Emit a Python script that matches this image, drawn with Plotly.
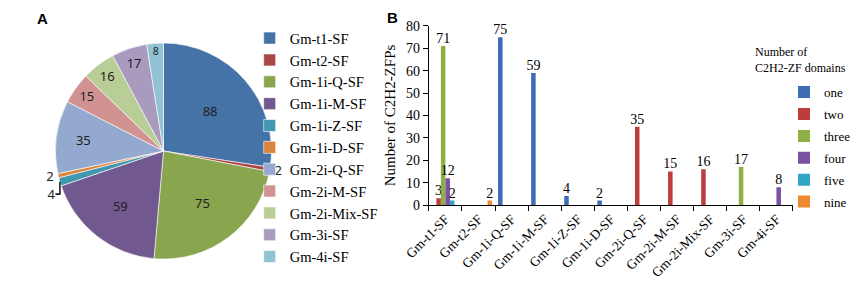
import plotly.graph_objects as go

# ---- Panel A data (pie) ----
subfamilies = ["Gm-t1-SF", "Gm-t2-SF", "Gm-1i-Q-SF", "Gm-1i-M-SF", "Gm-1i-Z-SF", "Gm-1i-D-SF",
               "Gm-2i-Q-SF", "Gm-2i-M-SF", "Gm-2i-Mix-SF", "Gm-3i-SF", "Gm-4i-SF"]
pie_counts = [88, 2, 75, 59, 4, 2, 35, 15, 16, 17, 8]
pie_colors = ["#4572A7", "#AA4643", "#89A54E", "#71588F", "#4198AF", "#DB843D",
              "#93A9CF", "#D19392", "#B9CD96", "#A99BBD", "#92C3D4"]

# ---- Panel B data (grouped bars) ----
domain_counts = ["one", "two", "three", "four", "five", "nine"]
one_vals   = [0, 0, 75, 59, 4, 2, 0, 0, 0, 0, 0]
two_vals   = [3, 0, 0, 0, 0, 0, 35, 15, 16, 0, 0]
three_vals = [71, 0, 0, 0, 0, 0, 0, 0, 0, 17, 0]
four_vals  = [12, 0, 0, 0, 0, 0, 0, 0, 0, 0, 8]
five_vals  = [2, 0, 0, 0, 0, 0, 0, 0, 0, 0, 0]
nine_vals  = [0, 2, 0, 0, 0, 0, 0, 0, 0, 0, 0]
bar_series = [one_vals, two_vals, three_vals, four_vals, five_vals, nine_vals]
bar_colors = ["#3D6DB5", "#BE3D3C", "#8DB043", "#7B51A3", "#33A6C6", "#EE8A2E"]

W, H = 856, 287
def px(x):
    return x / W
def py(y):
    return 1 - y / H

SERIF = "Liberation Serif, Times New Roman, serif"
SANS = "Liberation Sans, Arial, sans-serif"

fig = go.Figure()

textpos = ["outside" if v <= 4 else "inside" for v in pie_counts]
fig.add_trace(go.Pie(
    labels=subfamilies, values=pie_counts, sort=False, direction="clockwise", rotation=0,
    marker=dict(colors=pie_colors, line=dict(color="white", width=0.6)),
    textinfo="value", textposition=textpos, insidetextorientation="horizontal",
    textfont=dict(family="Noto Sans, sans-serif", size=13, color="#222222"),
    domain=dict(x=[px(22), px(264)], y=[py(266), py(38)]),
    legend="legend", showlegend=True, hoverinfo="label+value",
))

for name, vals, col in zip(domain_counts, bar_series, bar_colors):
    fig.add_trace(go.Bar(
        x=subfamilies, y=vals, name=name, marker=dict(color=col, line=dict(width=0)),
        text=[str(v) if v else "" for v in vals], textposition="outside", constraintext="none",
        textfont=dict(family=SERIF, size=14, color="black"), cliponaxis=False,
        legend="legend2", legendgroup=name, xaxis="x", yaxis="y",
    ))

fig.update_layout(
    width=W, height=H, margin=dict(l=0, r=0, t=0, b=0),
    paper_bgcolor="white", plot_bgcolor="white",
    barmode="group", bargap=0.18, bargroupgap=0,
    font=dict(family=SERIF, size=12, color="black"),
    xaxis=dict(domain=[px(417), px(793)], showgrid=False, showline=True, linecolor="black",
               linewidth=1, ticks="outside", tickson="boundaries", ticklen=5, tickcolor="black",
               tickangle=-45, tickfont=dict(family=SERIF, size=13.5), anchor="y"),
    yaxis=dict(domain=[py(209), py(20)], range=[0, 80], dtick=10, showgrid=False, showline=True,
               linecolor="black", linewidth=1, ticks="outside", ticklen=5, tickcolor="black",
               tickfont=dict(family=SERIF, size=14), zeroline=False,
               title=dict(text="Number of C2H2-ZFPs", font=dict(family=SERIF, size=15), standoff=6),
               anchor="x"),
    legend=dict(x=px(232), y=py(16), xanchor="left", yanchor="top", bgcolor="rgba(0,0,0,0)",
                font=dict(family=SERIF, size=14.5), tracegroupgap=0),
    legend2=dict(x=px(784), y=py(74), xanchor="left", yanchor="top", bgcolor="rgba(0,0,0,0)",
                 font=dict(family=SERIF, size=13), tracegroupgap=2),
    annotations=[
        dict(text="<b>A</b>", x=px(10), y=py(12), xref="paper", yref="paper", xanchor="left",
             yanchor="middle", showarrow=False, font=dict(family=SANS, size=15)),
        dict(text="<b>B</b>", x=px(372), y=py(11), xref="paper", yref="paper", xanchor="left",
             yanchor="middle", showarrow=False, font=dict(family=SANS, size=15)),
        dict(text="Number of<br>C2H2-ZF domains", x=px(752), y=py(38), xref="paper", yref="paper",
             xanchor="left", yanchor="top", align="left", showarrow=False,
             font=dict(family=SERIF, size=12)),
    ],
)

fig.write_html("out.html", config={"displayModeBar": False},
               post_script="document.body.style.margin='0';")
